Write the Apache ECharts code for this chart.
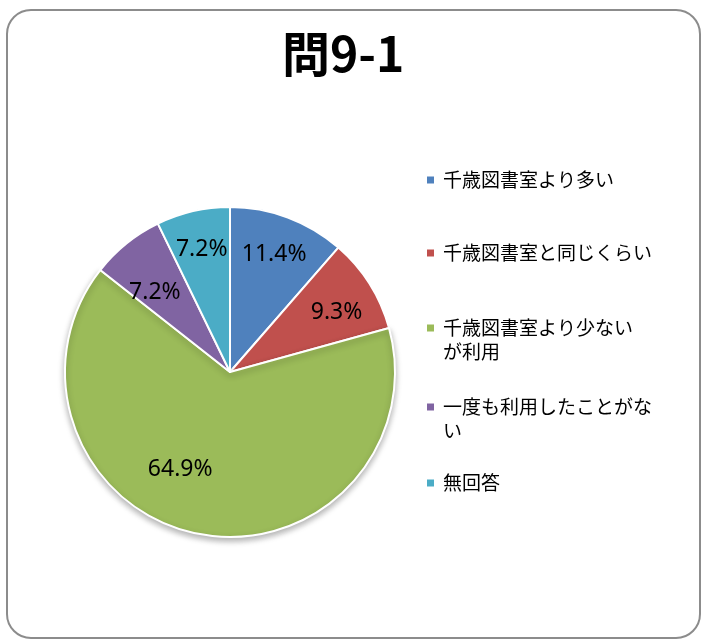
<!DOCTYPE html>
<html>
<head>
<meta charset="utf-8">
<script src="https://cdn.jsdelivr.net/npm/echarts@6/dist/echarts.min.js"></script>
<style>
  html, body { margin: 0; padding: 0; background: #fff; }
  #chart { width: 704px; height: 641px; }
</style>
</head>
<body>
<div id="chart"></div>
<script>
const categories = [
    '千歳図書室より多い',
    '千歳図書室と同じくらい',
    '千歳図書室より少ないが利用',
    '一度も利用したことがない',
    '無回答'
];
const legendLabels = [
    '千歳図書室より多い',
    '千歳図書室と同じくらい',
    '千歳図書室より少ない\nが利用',
    '一度も利用したことがな\nい',
    '無回答'
];
const values = [11.4, 9.3, 64.9, 7.2, 7.2];
const colors = ['#4F81BD', '#C0504D', '#9BBB59', '#8064A2', '#4BACC6'];

// Excel "best fit" puts a few labels off the mid-line
const labelNudge = { 1: [0, 8], 2: [-25, -26], 3: [4, 19] };
const legendTops = [168, 241, 292, 371, 471];

const chart = echarts.init(document.getElementById('chart'));

const pieData = categories.map((name, i) => ({
    name,
    value: values[i],
    itemStyle: i === 2 ? {
        color: colors[i],
        shadowBlur: 6,
        shadowOffsetY: 3,
        shadowColor: 'rgba(0,0,0,0.3)'
    } : { color: colors[i] }
}));

const labelData = categories.map((name, i) => ({
    name,
    value: values[i],
    label: labelNudge[i] ? { offset: labelNudge[i] } : {}
}));

// an empty first line keeps the marker level with the first text line
const twoLine = i => legendLabels[i].indexOf('\n') >= 0;

chart.setOption({
    animation: false,
    title: {
        text: '問9-1',
        left: 282,
        top: 30,
        padding: 0,
        textStyle: {
            fontFamily: 'Noto Sans CJK JP',
            fontWeight: 'bold',
            fontSize: 48,
            color: '#000'
        }
    },
    graphic: [{
        type: 'rect',
        shape: { x: 7, y: 10, width: 693, height: 628, r: 24 },
        style: { fill: 'none', stroke: '#8c8c8c', lineWidth: 2 },
        z: -1
    }],
    legend: categories.map((name, i) => ({
        data: [name],
        left: 425,
        top: legendTops[i],
        padding: 0,
        orient: 'vertical',
        icon: 'rect',
        itemWidth: 9,
        itemHeight: 9,
        selectedMode: false,
        formatter: () => (twoLine(i) ? '\n' : '') + legendLabels[i],
        textStyle: {
            fontFamily: 'Noto Sans CJK JP',
            fontSize: 19,
            lineHeight: 24,
            color: '#000',
            padding: [0, 0, 0, 3]
        }
    })),
    series: [
        {
            type: 'pie',
            center: [230, 372],
            radius: 165,
            startAngle: 90,
            clockwise: true,
            silent: true,
            label: { show: false },
            labelLine: { show: false },
            itemStyle: {
                borderColor: '#fff',
                borderWidth: 2
            },
            data: pieData
        },
        {
            type: 'pie',
            center: [230, 372],
            radius: [96, 150],
            startAngle: 90,
            clockwise: true,
            silent: true,
            itemStyle: { color: 'rgba(0,0,0,0)' },
            label: {
                show: true,
                position: 'inside',
                formatter: p => p.value.toFixed(1) + '%',
                fontFamily: 'Noto Sans',
                fontSize: 23,
                color: '#000'
            },
            labelLine: { show: false },
            data: labelData
        }
    ]
});
</script>
</body>
</html>
